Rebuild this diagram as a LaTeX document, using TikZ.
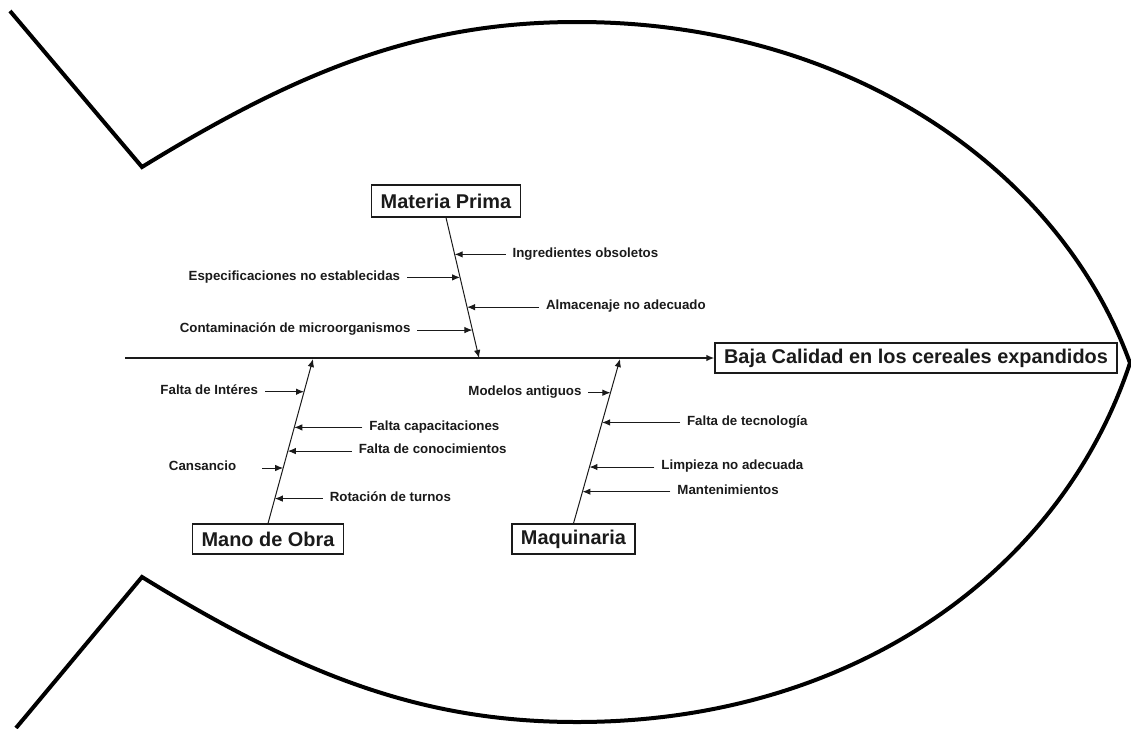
\documentclass[tikz,border=0pt]{standalone}
\usepackage{fontspec}
\setmainfont{Liberation Sans}
\usetikzlibrary{arrows.meta, positioning, calc}
\definecolor{inkgrey}{HTML}{1A1A1A}
\tikzset{
  fishline/.style={line width=4pt, line join=miter, black},
  catbox/.style={rectangle, draw=inkgrey, line width=1.2pt, fill=white, inner xsep=2pt,
    minimum height=30pt, font=\fontsize{19.9}{23}\selectfont\bfseries, text=inkgrey},
  effectbox/.style={catbox, minimum width=402pt},
  cause/.style={font=\fontsize{13.3}{15}\selectfont\bfseries, text=inkgrey, inner sep=0pt,
    outer sep=7pt, text height=0.75em, text depth=0.2em},
  arrow/.style={-{Latex[length=8pt, width=6.5pt]}, line width=1pt, inkgrey},
  spine/.style={-{Latex[length=8pt, width=6.5pt]}, line width=1.5pt, inkgrey},
}

\begin{document}
\begin{tikzpicture}[x=1pt, y=-1pt]
\useasboundingbox (0,0) rectangle (1131,728);

% fish outline
\draw[fishline] (10,11) -- (142,167)
  .. controls (300,70) and (420,22) .. (577,22)
  .. controls (850,22) and (1060,170) .. (1130,363)
  .. controls (1060,574) and (850,722) .. (577,722)
  .. controls (420,722) and (300,674) .. (142,577) -- (16,728);

% effect and spine
\node[effectbox] (effect) at (916,358) {Baja Calidad en los cereales expandidos};
\coordinate (tail) at (125,358);
\coordinate (mpEnd) at (479,358);
\coordinate (moEnd) at (313,359);
\coordinate (maqEnd) at (620,359);
\draw[spine] (tail) -- (effect);

% categories
\node[catbox, minimum width=149pt, minimum height=32pt] (mp) at (446,201) {Materia Prima};
\node[catbox, minimum width=151pt] (mo) at (268,539) {Mano de Obra};
\node[catbox, minimum width=123pt] (maq) at (573.5,539) {Maquinaria};
\draw[arrow] (mp.south) -- (mpEnd);
\draw[arrow] (mo.north) -- (moEnd);
\draw[arrow] (maq.north) -- (maqEnd);

% Materia Prima
\coordinate (mp1) at ($(mp.south)!0.262!(mpEnd)$);
\coordinate (mp2) at ($(mp.south)!0.426!(mpEnd)$);
\coordinate (mp3) at ($(mp.south)!0.638!(mpEnd)$);
\coordinate (mp4) at ($(mp.south)!0.801!(mpEnd)$);
\node[cause, right=51pt of mp1] (ingr) {Ingredientes obsoletos};
\node[cause, left=53pt of mp2] (espec) {Especificaciones no establecidas};
\node[cause, right=72pt of mp3] (almac) {Almacenaje no adecuado};
\node[cause, left=55pt of mp4] (contam) {Contaminación de microorganismos};
\draw[arrow] (ingr) -- (mp1);
\draw[arrow] (espec) -- (mp2);
\draw[arrow] (almac) -- (mp3);
\draw[arrow] (contam) -- (mp4);

% Mano de Obra
\coordinate (mo1) at ($(mo.north)!0.801!(moEnd)$);
\coordinate (mo2) at ($(mo.north)!0.584!(moEnd)$);
\coordinate (mo3) at ($(mo.north)!0.440!(moEnd)$);
\coordinate (mo4) at ($(mo.north)!0.337!(moEnd)$);
\coordinate (mo5) at ($(mo.north)!0.151!(moEnd)$);
\node[cause, left=39pt of mo1] (inter) {Falta de Intéres};
\node[cause, right=68pt of mo2] (capac) {Falta capacitaciones};
\node[cause, right=64pt of mo3] (conoc) {Falta de conocimientos};
\node[cause, left=40pt of mo4] (cansa) {Cansancio};
\node[cause, right=48pt of mo5] (rotac) {Rotación de turnos};
\draw[arrow] (inter) -- (mo1);
\draw[arrow] (capac) -- (mo2);
\draw[arrow] (conoc) -- (mo3);
\draw[arrow] ([xshift=19pt]cansa.east) -- (mo4);
\draw[arrow] (rotac) -- (mo5);

% Maquinaria
\coordinate (maq1) at ($(maq.north)!0.795!(maqEnd)$);
\coordinate (maq2) at ($(maq.north)!0.614!(maqEnd)$);
\coordinate (maq3) at ($(maq.north)!0.343!(maqEnd)$);
\coordinate (maq4) at ($(maq.north)!0.193!(maqEnd)$);
\node[cause, left=22pt of maq1] (model) {Modelos antiguos};
\node[cause, right=78pt of maq2] (tecno) {Falta de tecnología};
\node[cause, right=65pt of maq3] (limpi) {Limpieza no adecuada};
\node[cause, right=88pt of maq4] (mante) {Mantenimientos};
\draw[arrow] (model) -- (maq1);
\draw[arrow] (tecno) -- (maq2);
\draw[arrow] (limpi) -- (maq3);
\draw[arrow] (mante) -- (maq4);
\end{tikzpicture}
\end{document}
